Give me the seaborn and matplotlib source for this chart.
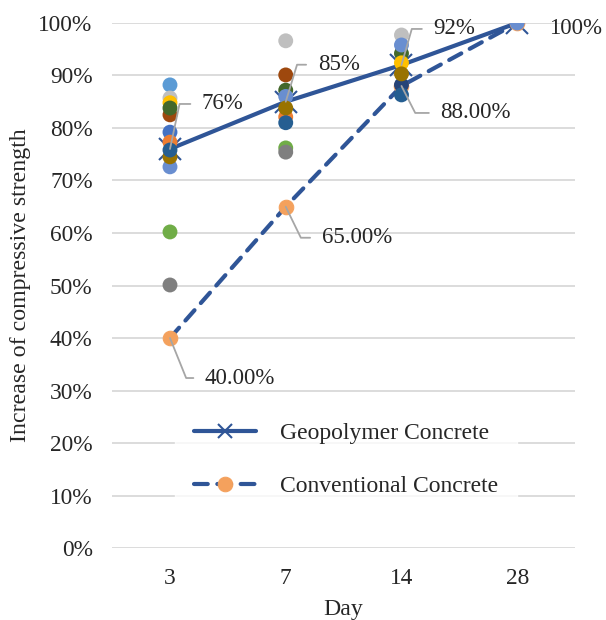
import numpy as np
import pandas as pd
import matplotlib
matplotlib.use("Agg")
import matplotlib.pyplot as plt
import seaborn as sns

# --- data -------------------------------------------------------------
days = ["3", "7", "14", "28"]
geopolymer = [0.76, 0.85, 0.92, 1.00]
conventional = [0.40, 0.65, 0.88, 1.00]

# individual specimen results per curing age (draw order = stacking order)
day3_vals = [0.882, 0.857, 0.848, 0.825, 0.838, 0.726, 0.745, 0.792, 0.773, 0.758, 0.602, 0.501]
day3_cols = ["#5B9BD5", "#BFBFBF", "#FFC000", "#9E480E", "#43682B", "#698ED0",
             "#997300", "#4472C4", "#ED7D31", "#255E91", "#70AD47", "#7F7F7F"]
day7_vals = [0.966, 0.901, 0.872, 0.860, 0.821, 0.838, 0.810, 0.762, 0.754]
day7_cols = ["#BFBFBF", "#9E480E", "#43682B", "#698ED0", "#ED7D31", "#997300",
             "#255E91", "#70AD47", "#7F7F7F"]
day14_vals = [0.977, 0.942, 0.958, 0.924, 0.882, 0.863, 0.903]
day14_cols = ["#BFBFBF", "#43682B", "#698ED0", "#FFC000", "#264478", "#255E91", "#997300"]
day28_vals = [1.00]
day28_cols = ["#698ED0"]

# --- styling ----------------------------------------------------------
sns.set_theme(style="white")
plt.rcParams["font.family"] = ["Liberation Serif", "DejaVu Serif"]

LINE = "#2F5597"
ORANGE = "#F4A15D"
GRID = "#D9D9D9"
LEAD = "#A6A6A6"
TXT = "#262626"

fig = plt.figure(figsize=(6.06, 6.2), dpi=100)
ax = fig.add_axes([0.185, 0.116, 0.764, 0.847])

xpos = np.arange(len(days))
lines_df = pd.DataFrame({"pos": xpos, "geo": geopolymer, "conv": conventional})

sns.lineplot(data=lines_df, x="pos", y="geo", ax=ax, color=LINE, linewidth=3,
             marker="x", markersize=16, markeredgewidth=1.5, markeredgecolor=LINE,
             label="Geopolymer Concrete", zorder=3, solid_capstyle="round")
sns.lineplot(data=lines_df, x="pos", y="conv", ax=ax, color=LINE, linewidth=3,
             linestyle=(0, (3.3, 2.3)), dash_capstyle="round",
             marker="o", markersize=10.5, markerfacecolor=ORANGE, markeredgecolor=ORANGE,
             label="Conventional Concrete", zorder=3)

# specimen dots
rows = []
for i, (vals, cols) in enumerate([(day3_vals, day3_cols), (day7_vals, day7_cols),
                                  (day14_vals, day14_cols), (day28_vals, day28_cols)]):
    for v, c in zip(vals, cols):
        rows.append({"pos": xpos[i], "value": v, "color": c})
dots = pd.DataFrame(rows)
dots["id"] = np.arange(len(dots)).astype(str)
palette = dict(zip(dots["id"], dots["color"]))
sns.scatterplot(data=dots, x="pos", y="value", hue="id", palette=palette, s=115,
                linewidth=0, legend=False, ax=ax, zorder=4)

# axes
ax.set_xlim(-0.5, 3.5)
ax.set_ylim(0, 1.0)
ax.set_yticks(np.arange(0, 1.01, 0.1))
ax.set_yticklabels([f"{int(round(t * 100))}%" for t in np.arange(0, 1.01, 0.1)])
ax.set_xticks(xpos)
ax.set_xticklabels(days)
ax.yaxis.grid(True, color=GRID, linewidth=1.3)
ax.set_axisbelow(True)
for s in ax.spines.values():
    s.set_visible(False)
ax.tick_params(axis="y", length=0, labelsize=16.8, colors=TXT, pad=14)
ax.tick_params(axis="x", length=0, labelsize=16.8, colors=TXT, pad=14.5)
ax.set_xlabel("Day", fontsize=17.2, color=TXT, labelpad=7.0)
ax.set_ylabel("Increase of compressive strength", fontsize=17.2, color=TXT, labelpad=5.5)

# value labels with leader lines
def label(x, y, text, dx, dy, angle):
    if angle is None:
        ax.annotate(text, (x, y), xytext=(dx, dy), textcoords="offset pixels",
                    ha="left", va="center", fontsize=16.5, color=TXT, zorder=6)
        return
    ax.annotate(text, (x, y), xytext=(dx, dy), textcoords="offset pixels",
                ha="left", va="center", fontsize=16.5, color=TXT, zorder=6,
                arrowprops=dict(arrowstyle="-", color=LEAD, lw=1.3, shrinkA=6, shrinkB=0,
                                relpos=(0, 0.5),
                                connectionstyle=f"angle,angleA=0,angleB={angle},rad=0"))

label(xpos[0], geopolymer[0], f"{geopolymer[0]:.0%}", 32, 45, 78)
label(xpos[1], geopolymer[1], f"{geopolymer[1]:.0%}", 32, 37, 73)
label(xpos[2], geopolymer[2], f"{geopolymer[2]:.0%}", 32, 36, 74)
label(xpos[3], geopolymer[3], f"{geopolymer[3]:.0%}", 32, -6, None)
label(xpos[0], conventional[0], f"{conventional[0]:.2%}", 35, -40, -68)
label(xpos[1], conventional[1], f"{conventional[1]:.2%}", 36, -31, -64)
label(xpos[2], conventional[2], f"{conventional[2]:.2%}", 39, -27, -63)

leg = ax.legend(loc="center", bbox_to_anchor=(0.505, 0.168), frameon=True, fontsize=17,
                handlelength=2.65, labelspacing=1.35, borderpad=0.8, handletextpad=1.0)
leg.get_frame().set_facecolor("white")
leg.get_frame().set_edgecolor("white")
leg.legend_handles[0].set_markersize(10)
for t in leg.get_texts():
    t.set_color(TXT)

fig.savefig("out.png", dpi=100)
